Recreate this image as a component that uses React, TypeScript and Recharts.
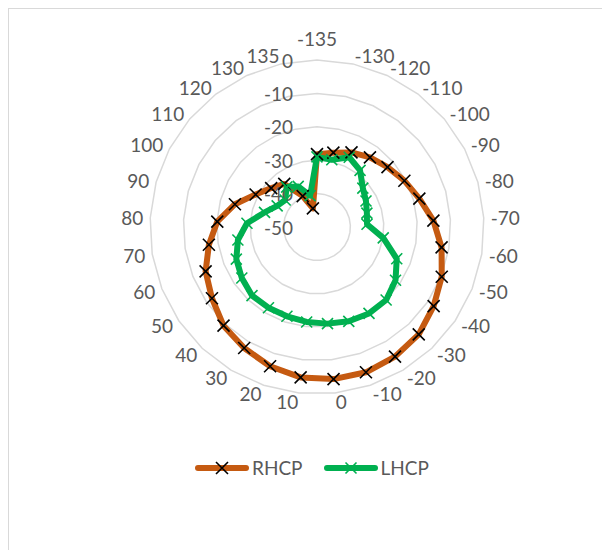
import {
  RadarChart,
  Radar,
  PolarGrid,
  PolarAngleAxis,
  PolarRadiusAxis,
  Legend,
} from "recharts";

// angle (deg) labels around the plot, clockwise from the top
const angleLabels = [
  "-135", "-130", "-120", "-110", "-100", "-90", "-80", "-70", "-60", "-50",
  "-40", "-30", "-20", "-10", "0", "10", "20", "30", "40", "50",
  "60", "70", "80", "90", "100", "110", "120", "130", "135",
];

// gain in dB
const rhcpValues = [
  -28.2, -27.2, -25.4, -23.8, -22.3, -20.4, -18.2, -15.1, -12.2, -9.8,
  -7.8, -5.7, -4.7, -4.1, -4.2, -4.7, -6.0, -7.7, -9.3, -12.0,
  -14.1, -17.2, -20.1, -24.5, -29.2, -32.0, -33.8, -39.8, -44.3,
];

const lhcpValues = [
  -29.0, -29.4, -27.0, -28.7, -32.0, -33.4, -34.5, -35.0, -29.9, -24.3,
  -21.6, -19.9, -19.8, -20.2, -20.9, -21.4, -21.8, -21.8, -21.7, -22.8,
  -24.0, -26.0, -29.0, -33.7, -36.5, -37.5, -35.0, -36.6, -40.4,
];

const radiusDomain = [-50, 0];

const data = angleLabels.map((angle, i) => ({
  angle,
  RHCP: rhcpValues[i],
  LHCP: lhcpValues[i],
}));

const FONT = "Lato";
const TEXT_COLOR = "#595959";
const FONT_SIZE = 19;

const series = [
  { key: "RHCP", color: "#C55A11", marker: "#000000", half: 6, markerWidth: 1.6 },
  { key: "LHCP", color: "#00B050", marker: "#00B050", half: 5.5, markerWidth: 1.6 },
];

function xPath(cx: number, cy: number, h: number) {
  return `M${cx - h},${cy - h}L${cx + h},${cy + h}M${cx - h},${cy + h}L${cx + h},${cy - h}`;
}

function makeDot(color: string, half: number, width: number) {
  return (props: any) => {
    const { cx, cy, key } = props;
    return <path key={key} d={xPath(cx, cy, half)} stroke={color} strokeWidth={width} fill="none" />;
  };
}

function AngleTick(props: any) {
  const { x, y, payload, index } = props;
  const rad = (payload.coordinate * Math.PI) / 180;
  const c = Math.cos(rad);
  const s = Math.sin(rad);
  const anchor = c > 0.05 ? "start" : c < -0.05 ? "end" : "middle";
  const dy = index === 0 ? -15 : -1.5 * s;
  return (
    <text
      x={x}
      y={y + dy}
      textAnchor={anchor}
      dominantBaseline="central"
      fill={TEXT_COLOR}
      fontSize={FONT_SIZE}
      fontFamily={FONT}
    >
      {payload.value}
    </text>
  );
}

function RadiusTick(props: any) {
  const { x, y, payload } = props;
  return (
    <text
      x={x - 24}
      y={y}
      textAnchor="end"
      dominantBaseline="central"
      fill={TEXT_COLOR}
      fontSize={FONT_SIZE}
      fontFamily={FONT}
    >
      {payload.value}
    </text>
  );
}

function renderLegend() {
  return (
    <div
      style={{
        display: "flex",
        alignItems: "center",
        fontFamily: FONT,
        fontSize: FONT_SIZE,
        lineHeight: "22px",
        color: TEXT_COLOR,
      }}
    >
      {series.map((s) => (
        <div key={s.key} style={{ display: "flex", alignItems: "center", marginRight: 21 }}>
          <svg width={54} height={14} style={{ display: "block" }}>
            <line x1={3} y1={7} x2={51} y2={7} stroke={s.color} strokeWidth={6} strokeLinecap="round" />
            <path d={xPath(27, 7, s.half)} stroke={s.marker} strokeWidth={s.markerWidth} fill="none" />
          </svg>
          <span style={{ marginLeft: 3 }}>{s.key}</span>
        </div>
      ))}
    </div>
  );
}

export default function App() {
  return (
    <div
      style={{
        width: 602,
        height: 542,
        boxSizing: "border-box",
        borderTop: "1px solid #d9d9d9",
        borderLeft: "1px solid #d9d9d9",
        position: "relative",
        background: "#fff",
      }}
    >
      <RadarChart
        width={601}
        height={541}
        data={data}
        cx={308}
        cy={218}
        outerRadius={167}
        margin={{ top: 0, right: 0, bottom: 0, left: 0 }}
      >
        <PolarGrid gridType="polygon" radialLines={false} stroke="#D9D9D9" strokeWidth={1.5} />
        <PolarAngleAxis
          dataKey="angle"
          tick={AngleTick}
          tickSize={7}
          tickLine={false}
          axisLine={false}
        />
        <PolarRadiusAxis
          angle={90}
          domain={radiusDomain}
          tickCount={6}
          axisLine={false}
          tickLine={false}
          tick={RadiusTick}
        />
        {series.map((s) => (
          <Radar
            key={s.key}
            name={s.key}
            dataKey={s.key}
            stroke={s.color}
            strokeWidth={6}
            strokeLinejoin="round"
            fill="none"
            fillOpacity={0}
            dot={makeDot(s.marker, s.half, s.markerWidth)}
            isAnimationActive={false}
          />
        ))}
        <Legend
          content={renderLegend}
          wrapperStyle={{ position: "absolute", left: 186, top: 448, bottom: "auto", width: 300 }}
        />
      </RadarChart>
    </div>
  );
}
